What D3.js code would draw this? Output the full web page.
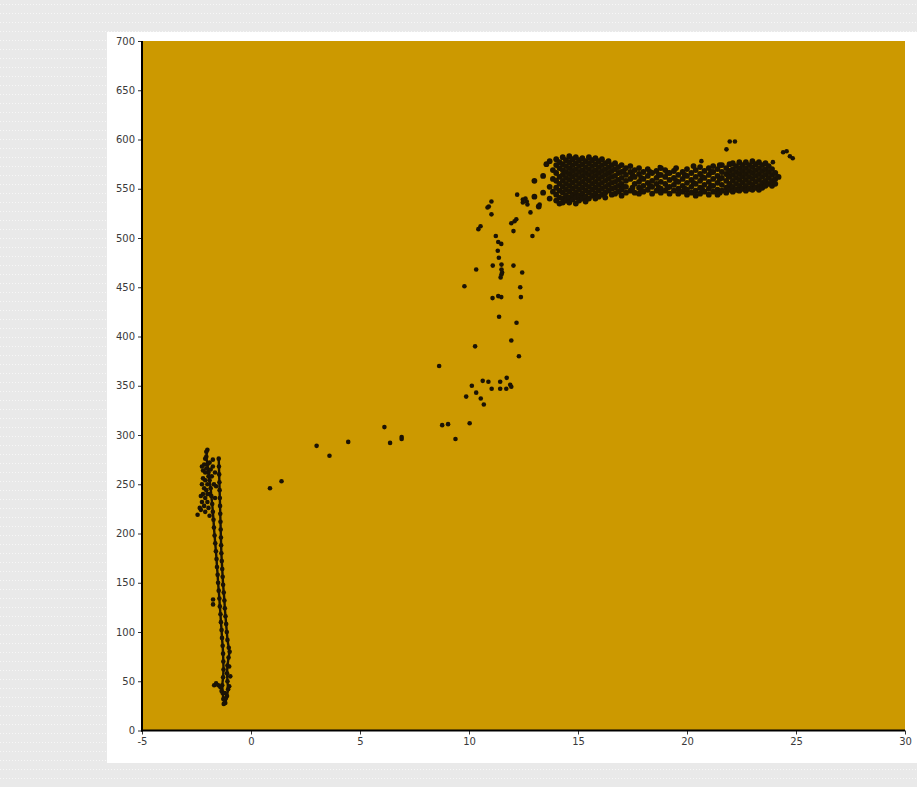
<!DOCTYPE html>
<html><head><meta charset="utf-8">
<script src="https://cdn.jsdelivr.net/npm/d3@7"></script>
<style>body{margin:0;background:#e9e9e9}svg{display:block}</style>
</head><body><svg id="c" width="917" height="787"></svg>
<script>
const xTicks = [-5, 0, 5, 10, 15, 20, 25, 30];
const yTicks = [0, 50, 100, 150, 200, 250, 300, 350, 400, 450, 500, 550, 600, 650, 700];

// dense left trace (outer line)
const traceA = [[-2.0,285],[-2.05,278],[-2.0,270],[-1.95,262],[-1.9,254],[-1.85,246],[-1.82,238],[-1.78,230],[-1.75,222],[-1.72,214],[-1.7,206],[-1.67,198],[-1.64,190],[-1.61,182],[-1.58,174],[-1.56,166],[-1.53,158],[-1.51,150],[-1.48,142],[-1.45,134],[-1.43,126],[-1.4,118],[-1.38,110],[-1.35,102],[-1.33,94],[-1.3,86],[-1.28,78],[-1.27,70],[-1.26,62],[-1.28,54],[-1.32,46],[-1.3,38],[-1.27,32]];
// dense left trace (inner line)
const traceB = [[-1.48,276],[-1.47,268],[-1.46,260],[-1.45,252],[-1.44,244],[-1.43,236],[-1.42,228],[-1.41,220],[-1.4,212],[-1.39,204],[-1.38,196],[-1.37,188],[-1.36,180],[-1.34,172],[-1.32,164],[-1.3,156],[-1.28,148],[-1.25,140],[-1.22,132],[-1.2,124],[-1.17,116],[-1.14,108],[-1.11,100],[-1.08,92],[-1.02,84],[-0.98,80],[-1.03,74],[-1.08,66],[-1.1,58],[-1.08,50],[-1.05,42],[-1.1,35],[-1.18,28]];
// top blob & loose points around the left trace
const leftBlob = [[-2.05,283],[-2.1,276],[-2.15,270],[-2.2,264],[-2.1,262],[-2.2,256],[-2.25,250],[-2.15,246],[-2.2,240],[-2.1,236],[-2.25,232],[-2.15,228],[-2.3,224],[-2.45,219],[-2.35,226],[-1.9,272],[-1.95,258],[-2.0,250],[-1.9,240],[-2.05,244],[-2.0,232],[-1.95,226],[-2.1,222],[-1.9,218],[-1.75,268],[-1.8,258],[-1.7,250],[-1.75,275],[-2.3,238],[-2.25,268],[-1.65,262],[-1.6,248],[-1.65,236],[-2.05,266],[-2.0,240],[-2.1,254],[-1.85,265],[-1.74,133],[-1.74,128],[-1.69,46],[-1.6,48],[-1.5,46],[-1.4,44],[-1.35,40],[-1.2,38],[-1.0,45],[-0.95,55],[-1.0,65],[-1.2,30],[-1.25,27],[-1.15,33]];
// sparse transition points
const transition = [[0.87,246],[1.40,253],[3.01,289],[3.60,279],[4.46,293],[6.12,308],[6.38,292],[6.91,298],[6.91,296],[8.63,370],[8.77,310],[9.04,311],[9.38,296],[10.03,312],[9.87,339],[10.54,337],[10.68,331],[10.13,350],[10.33,343],[10.63,355],[10.89,354],[11.04,347],[11.43,354],[11.43,347],[11.71,347],[11.73,358],[11.89,351],[11.94,349],[12.29,380],[10.28,390],[11.94,396],[12.18,414],[11.38,420],[11.08,439],[11.34,441],[11.48,440],[12.38,440],[9.79,451],[12.35,450],[10.33,468],[12.44,465],[11.09,472],[12.04,472],[11.49,473],[11.49,468],[11.49,463],[11.52,465],[11.45,460],[11.37,480],[11.32,487],[11.34,496],[11.48,494],[11.23,502],[12.91,502],[13.14,509],[12.04,507],[10.53,512],[10.43,509],[11.94,515],[12.09,517],[12.17,519],[11.03,524],[12.82,526],[10.91,532],[10.85,531],[11.03,537],[12.68,534],[12.59,540],[12.65,537],[12.47,536],[13.0,542],[13.24,534],[12.21,544],[12.47,539]];
// plateau cluster, by x column: [x, [y values]]
const plateauColumns = [
  [13.0,[558,542]],[13.2,[532]],[13.4,[563,546]],[13.55,[575]],[13.7,[578,552,540]],[13.85,[569,560,547]],
  [14.0,[580,574,566,558,551,544,538]],[14.15,[577,571,562,555,548,541,535]],
  [14.3,[582,575,569,564,558,552,546,540,536]],[14.45,[579,573,567,561,555,549,543,538]],
  [14.6,[583,577,571,565,559,553,547,541,536]],[14.75,[580,574,568,562,556,550,544,539]],
  [14.9,[582,576,570,564,558,552,546,541,535]],[15.05,[579,573,567,561,555,549,543,538]],
  [15.2,[581,575,569,563,557,551,545,540]],[15.35,[578,572,566,560,554,548,542,537]],
  [15.5,[582,576,570,564,558,552,546,540]],[15.65,[579,573,567,561,555,549,543]],
  [15.8,[581,575,569,563,557,551,545,540]],[15.95,[578,572,566,560,554,548,542]],
  [16.1,[580,574,568,562,556,550,544]],[16.25,[576,570,564,558,552,546,541]],
  [16.4,[578,572,566,560,554,548]],[16.55,[574,568,562,556,550,544]],
  [16.7,[576,570,563,557,551,545]],[16.85,[572,566,559,553,547]],[17.0,[574,567,561,555,549,543]],
  [17.1,[568,552]],[17.2,[571,564,558,552,546]],[17.4,[573,567,560,548]],[17.5,[564,551]],[17.6,[569,562,555,546]],
  [17.8,[571,565,557,551,545]],[17.9,[561,548]],[18.0,[567,560,553,547]],[18.2,[570,563,556,549]],[18.3,[567,553]],
  [18.4,[566,558,552,545]],[18.6,[568,561,555,548]],[18.7,[564,551]],[18.8,[571,564,557,550,546]],
  [19.0,[569,562,555,548]],[19.1,[566,551]],[19.2,[566,559,552,545]],[19.4,[568,561,554,548]],[19.5,[571,558]],
  [19.6,[564,557,550,545]],[19.8,[567,560,553,547]],[19.9,[564,550]],[20.0,[570,563,556,549,544]],[20.2,[566,559,552,546]],
  [20.3,[573,556]],[20.4,[569,562,555,548,543]],[20.6,[572,565,558,551,545]],[20.7,[562,549]],[20.8,[568,561,554,547]],
  [21.0,[571,564,557,550,544]],[21.1,[567,553]],[21.2,[573,567,560,553,547]],[21.4,[570,563,556,549,544]],
  [21.5,[574,560,546]],[21.6,[574,567,561,554,548]],[21.8,[571,565,558,551,546]],[21.9,[563,552]],[21.95,[575,568,562,555,549]],
  [22.1,[576,570,564,558,552,547]],[22.25,[573,567,561,555,549]],[22.4,[577,571,565,559,553,548]],
  [22.55,[574,568,562,556,550]],[22.7,[577,571,565,559,553,548]],[22.85,[574,568,562,556,550]],
  [23.0,[578,572,566,560,554,549]],[23.15,[575,569,563,557,551]],[23.3,[577,571,565,559,553,549]],
  [23.45,[574,568,562,556,551]],[23.6,[576,570,564,558,553]],[23.75,[573,567,561,555]],
  [23.9,[570,564,558,553]],[24.05,[566,560,555]],[24.2,[562]]
];
const outliers = [[21.81,590],[21.96,598],[22.2,598],[20.66,578],[23.94,577],[24.41,587],[24.57,588],[24.72,583],[24.85,581],[18.75,572]];

const svg = d3.select('#c');
const defs = svg.append('defs');
const pat = defs.append('pattern').attr('id','bgp').attr('width',3).attr('height',9).attr('patternUnits','userSpaceOnUse');
pat.append('rect').attr('width',3).attr('height',9).attr('fill','#e9e9e9');
pat.append('rect').attr('x',0).attr('y',4).attr('width',1).attr('height',1).attr('fill','#f7f7f7');

svg.append('rect').attr('width',917).attr('height',787).attr('fill','url(#bgp)');
svg.append('rect').attr('x',107).attr('y',32).attr('width',810).attr('height',731).attr('fill','#ffffff');

const x = d3.scaleLinear().domain([-5,30]).range([142,905]);
const y = d3.scaleLinear().domain([0,700]).range([730.5,41]);

svg.append('rect').attr('x',x(-5)).attr('y',y(700)).attr('width',x(30)-x(-5)).attr('height',y(0)-y(700)).attr('fill','#cc9900');

const dotColor = '#1b1305';
const plateau = plateauColumns.flatMap(([cx, ys]) => ys.map(v => [cx, v]));
const line = d3.line().x(d=>x(d[0])).y(d=>y(d[1]));
[traceA, traceB].forEach(t => {
  svg.append('path').datum(t).attr('d', line).attr('fill','none').attr('stroke',dotColor).attr('stroke-width',2.4).attr('stroke-linejoin','round');
});
const loosePts = [].concat(traceA, traceB, leftBlob, transition, outliers);
svg.append('g').selectAll('circle').data(loosePts).join('circle')
  .attr('cx', d=>x(d[0])).attr('cy', d=>y(d[1])).attr('r', 2.3).attr('fill', dotColor);
svg.append('g').selectAll('circle').data(plateau).join('circle')
  .attr('cx', d=>x(d[0])).attr('cy', d=>y(d[1])).attr('r', 2.9).attr('fill', dotColor);

const fontFam = '"DejaVu Sans", Verdana, sans-serif';
const fmt = d => String(d);
const gx = svg.append('g').attr('transform',`translate(0,${y(0)})`)
  .call(d3.axisBottom(x).tickValues(xTicks).tickSize(4).tickPadding(3).tickFormat(fmt));
const gy = svg.append('g').attr('transform',`translate(${x(-5)},0)`)
  .call(d3.axisLeft(y).tickValues(yTicks).tickSize(4).tickPadding(3).tickFormat(fmt));
[gx, gy].forEach(g => {
  g.select('.domain').remove();
  g.selectAll('line').attr('stroke','#333');
  g.selectAll('text').attr('fill','#3a3a3a').style('font-family',fontFam).style('font-size','10px');
});
svg.append('line').attr('x1',x(-5)).attr('x2',x(-5)).attr('y1',y(700)).attr('y2',y(0)+1).attr('stroke','#000').attr('stroke-width',2);
svg.append('line').attr('x1',x(-5)-1).attr('x2',x(30)).attr('y1',y(0)).attr('y2',y(0)).attr('stroke','#000').attr('stroke-width',2);
</script></body></html>
